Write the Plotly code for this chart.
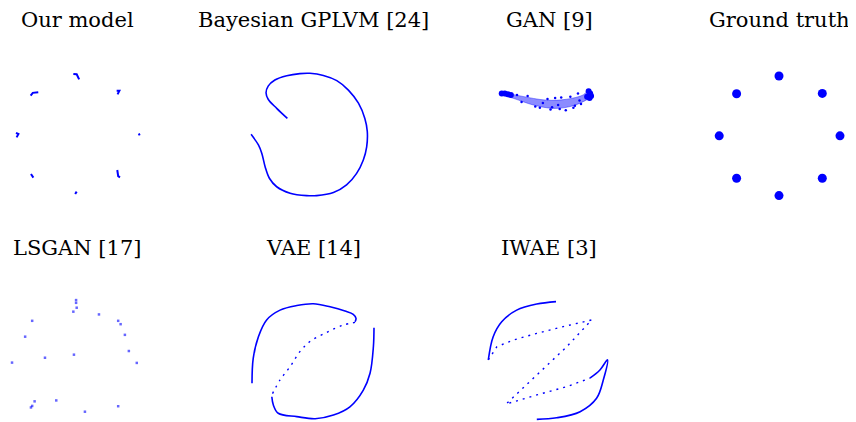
import plotly.graph_objects as go

BLUE = "rgb(0,0,255)"

titles = ["Our model", "Bayesian GPLVM [24]", "GAN [9]", "Ground truth",
          "LSGAN [17]", "VAE [14]", "IWAE [3]"]

# ---- data (ring-of-Gaussians coordinates) ----
ours_x = [-0.12, -0.01, 0.07, None, -1.52, -1.45, -1.27, None, 1.30, 1.39, 1.33, None,
          -2.00, -1.92, -1.98, None, 2.01, 2.07, None, -1.51, -1.43, None,
          1.32, 1.35, 1.41, None, -0.06, -0.01]
ours_y = [1.97, 1.96, 1.79, None, 1.26, 1.35, 1.37, None, 1.42, 1.42, 1.30, None,
          0.04, 0.00, -0.11, None, -0.03, 0.00, None, -1.31, -1.43, None,
          -1.18, -1.38, -1.42, None, -1.97, -1.89]

gplvm_x = [-0.84, -1.19, -1.47, -1.54, -1.47, -1.25, -0.86, -0.43, -0.10, 0.34, 0.78,
           1.16, 1.49, 1.70, 1.78, 1.76, 1.65, 1.43, 1.10, 0.67, 0.12, -0.21, -0.75,
           -1.19, -1.43, -1.57, -1.68, -1.79, -2.03]
gplvm_y = [0.51, 0.84, 1.14, 1.35, 1.57, 1.77, 1.91, 1.98, 1.99, 1.92, 1.75,
           1.44, 1.01, 0.51, 0.08, -0.42, -0.85, -1.29, -1.67, -1.92, -2.02, -2.02, -1.94,
           -1.73, -1.45, -1.07, -0.63, -0.36, -0.01]

gan_band_x = [-1.61, -0.95, -0.08, 0.58, 1.12, 1.29, 1.40, 1.40, 1.12, 0.69, 0.14, -0.51, -1.17, -1.61]
gan_band_y = [1.39, 1.25, 1.11, 1.14, 1.28, 1.42, 1.35, 1.25, 1.06, 0.90, 0.84, 0.95, 1.17, 1.30]
gan_blob_x = [-1.55, -1.45, -1.35, -1.25, 1.30, 1.35, 1.38, 1.33, 1.25]
gan_blob_y = [1.33, 1.33, 1.30, 1.28, 1.40, 1.33, 1.25, 1.18, 1.22]
gan_stray_x = [-0.30, 0.05, 0.35, 0.80, 0.95, -0.70, 0.20, 0.55, -0.05, 1.05,
               -0.90, -0.45, 0.40, 0.70, -1.05, 0.10, 1.00, -0.20, 0.85, 0.30]
gan_stray_y = [0.86, 0.80, 0.82, 0.86, 1.33, 1.25, 1.18, 0.78, 1.15, 0.98,
               1.05, 0.90, 1.20, 1.22, 1.28, 0.88, 1.10, 1.02, 0.93, 0.95]

truth_x = [0.00, 1.42, 2.00, 1.42, 0.00, -1.39, -1.96, -1.39]
truth_y = [1.90, 1.33, -0.06, -1.45, -2.02, -1.45, -0.06, 1.32]

lsgan_x = [-0.03, -0.03, -0.01, -0.12, 0.72, -1.47, 1.35, 1.43, -1.70, 1.57, 1.70, -0.10,
           -1.05, -2.13, 1.96, -0.68, -1.39, -1.47, -1.51, 1.35, 0.26]
lsgan_y = [2.03, 1.94, 1.78, 1.65, 1.56, 1.35, 1.35, 1.24, 0.83, 0.89, 0.36, 0.24,
           0.14, -0.02, -0.03, -1.26, -1.29, -1.44, -1.49, -1.45, -1.63]

vae_top_x = [-2.00, -1.96, -1.79, -1.52, -1.08, -0.53, 0.01, 0.56, 1.05, 1.32, 1.41, 1.38]
vae_top_y = [-0.70, 0.12, 0.83, 1.38, 1.70, 1.85, 1.91, 1.81, 1.67, 1.56, 1.43, 1.32]
vae_mid_x = [1.38, 0.99, 0.45, -0.10, -0.43, -0.75, -1.08, -1.35]
vae_mid_y = [1.30, 1.21, 0.97, 0.67, 0.34, -0.15, -0.59, -1.08]
vae_bot_x = [-1.35, -1.30, -1.14, -0.53, 0.07, 0.67, 1.21, 1.65, 1.87, 1.98, 2.00]
vae_bot_y = [-1.14, -1.41, -1.68, -1.79, -1.86, -1.74, -1.47, -0.92, -0.37, 0.50, 1.12]

iwae_top_x = [0.23, -0.40, -1.06, -1.55, -1.83, -1.99]
iwae_top_y = [1.98, 1.90, 1.70, 1.32, 0.83, 0.07]
iwae_dot_x = [-1.99, -1.71, -1.17, -0.40, 0.47, 1.40, 0.58, -0.30, -0.95, -1.41, -0.40, 0.58, 1.34]
iwae_dot_y = [0.07, 0.50, 0.72, 0.94, 1.16, 1.38, 0.50, -0.32, -0.92, -1.38, -1.08, -0.81, -0.53]
iwae_bot_x = [1.34, 1.67, 1.92, 1.78, 1.56, 1.02, 0.25, -0.40]
iwae_bot_y = [-0.53, -0.26, 0.07, -0.59, -1.19, -1.63, -1.83, -1.88]

# ---- layout geometry (pixels in the window; page body has an 8px margin) ----
OFF = 8
W, H = 856 - OFF, 422 - OFF
S = 30.5
col_cx = [77, 313, 549, 779]
row_cy = [134, 362]
row_box = [(50, 218), (288, 422)]
title_y = [20, 248]
panels = [(0, 0), (0, 1), (0, 2), (0, 3), (1, 0), (1, 1), (1, 2)]

fig = go.Figure()
layout_axes = {}
for i, (r, c) in enumerate(panels):
    n = "" if i == 0 else str(i + 1)
    cx, cy = col_cx[c], row_cy[r]
    x0, x1 = max(cx - 75, OFF), min(cx + 75, 856)
    y0, y1 = row_box[r]
    layout_axes["xaxis" + n] = dict(domain=[(x0 - OFF) / W, (x1 - OFF) / W],
                                    range=[(x0 - cx) / S, (x1 - cx) / S],
                                    visible=False, anchor="y" + n)
    layout_axes["yaxis" + n] = dict(domain=[1 - (y1 - OFF) / H, 1 - (y0 - OFF) / H],
                                    range=[(cy - y1) / S, (cy - y0) / S],
                                    visible=False, anchor="x" + n)

def ax(i):
    n = "" if i == 0 else str(i + 1)
    return dict(xaxis="x" + n, yaxis="y" + n)

line = lambda w: dict(color=BLUE, width=w)

fig.add_trace(go.Scatter(x=ours_x, y=ours_y, mode="lines", line=line(2), **ax(0)))
fig.add_trace(go.Scatter(x=gplvm_x, y=gplvm_y, mode="lines", line=dict(color=BLUE, width=1.6, shape="spline"), **ax(1)))
fig.add_trace(go.Scatter(x=gan_band_x, y=gan_band_y, mode="lines", fill="toself",
                         fillcolor="rgba(0,0,255,0.45)", line=dict(color="rgba(0,0,255,0.5)", width=0.8, shape="spline"), **ax(2)))
fig.add_trace(go.Scatter(x=gan_blob_x, y=gan_blob_y, mode="markers", marker=dict(color=BLUE, size=6), **ax(2)))
fig.add_trace(go.Scatter(x=gan_stray_x, y=gan_stray_y, mode="markers", marker=dict(color=BLUE, size=2.5), **ax(2)))
fig.add_trace(go.Scatter(x=truth_x, y=truth_y, mode="markers", marker=dict(color=BLUE, size=9), **ax(3)))
fig.add_trace(go.Scatter(x=lsgan_x, y=lsgan_y, mode="markers", marker=dict(color="rgba(0,0,255,0.6)", size=2.5, symbol="square"), **ax(4)))
fig.add_trace(go.Scatter(x=vae_top_x, y=vae_top_y, mode="lines", line=dict(color=BLUE, width=1.6, shape="spline"), **ax(5)))
fig.add_trace(go.Scatter(x=vae_mid_x, y=vae_mid_y, mode="lines", line=dict(color=BLUE, width=1.4, dash="2px,5px", shape="spline"), **ax(5)))
fig.add_trace(go.Scatter(x=vae_bot_x, y=vae_bot_y, mode="lines", line=dict(color=BLUE, width=1.6, shape="spline"), **ax(5)))
fig.add_trace(go.Scatter(x=iwae_top_x, y=iwae_top_y, mode="lines", line=dict(color=BLUE, width=1.6, shape="spline"), **ax(6)))
fig.add_trace(go.Scatter(x=iwae_dot_x, y=iwae_dot_y, mode="lines", line=dict(color=BLUE, width=1.4, dash="2px,5px"), **ax(6)))
fig.add_trace(go.Scatter(x=iwae_bot_x, y=iwae_bot_y, mode="lines", line=dict(color=BLUE, width=1.6, shape="spline"), **ax(6)))

annotations = []
for i, (r, c) in enumerate(panels):
    annotations.append(dict(text=titles[i], x=(col_cx[c] - OFF) / W, y=1 - (title_y[r] - OFF) / H,
                            xref="paper", yref="paper", xanchor="center", yanchor="middle", showarrow=False,
                            font=dict(family="DejaVu Serif", size=21, color="black")))

fig.update_layout(width=W, height=H, margin=dict(l=0, r=0, t=0, b=0), showlegend=False,
                  paper_bgcolor="white", plot_bgcolor="white", annotations=annotations, **layout_axes)
fig.write_html("out.html")
